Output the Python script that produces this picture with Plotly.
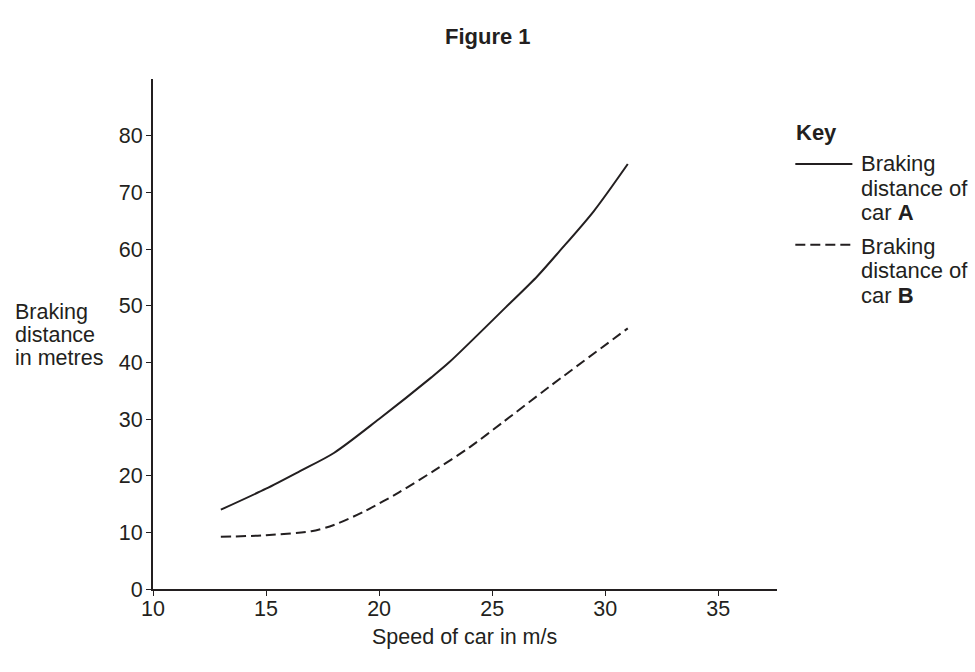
import plotly.graph_objects as go

# Data
speed_a = [13, 15, 16.5, 18, 20, 22.3, 23.1, 25.6, 27, 28, 29.5, 31]
dist_a = [14, 17.7, 20.8, 24.0, 30, 37.3, 40, 49.7, 55.2, 59.7, 66.7, 75]

speed_b = [13, 15, 17, 18, 19.4, 20.9, 22.4, 24, 25.5, 27.5, 31]
dist_b = [9.2, 9.5, 10.2, 11.3, 13.8, 17.1, 20.8, 25.0, 29.5, 35.6, 46]

x_ticks = [10, 15, 20, 25, 30, 35]
y_ticks = [0, 10, 20, 30, 40, 50, 60, 70, 80]

INK = "#231f20"
FONT = "Liberation Sans, Arial, sans-serif"
FS = 21.5

# plot-area pixel geometry
L, R, T, B = 153.3, 776.7, 79.0, 589.5
W, H = R - L, B - T


def px(x):
    return (x - L) / W


def py(y):
    return (B - y) / H


fig = go.Figure()
fig.add_trace(go.Scatter(x=speed_a, y=dist_a, mode="lines",
                         line=dict(color=INK, width=2, shape="spline", smoothing=0.8),
                         showlegend=False, hoverinfo="skip"))
fig.add_trace(go.Scatter(x=speed_b, y=dist_b, mode="lines",
                         line=dict(color=INK, width=2, dash="10px,5px", shape="spline", smoothing=0.8),
                         showlegend=False, hoverinfo="skip"))

fig.update_layout(
    width=975, height=672,
    margin=dict(l=L, r=975 - R, t=T, b=672 - B, pad=0),
    paper_bgcolor="white", plot_bgcolor="white",
    font=dict(family=FONT, size=FS, color=INK),
    xaxis=dict(range=[10, 37.6], tickvals=x_ticks, ticks="outside", ticklen=5,
               tickwidth=1.2, tickcolor=INK, showline=True, linecolor=INK, linewidth=2,
               showgrid=False, zeroline=False, tickfont=dict(size=FS),
               ticklabelstandoff=-6),
    yaxis=dict(range=[0, 90], tickvals=y_ticks, ticks="outside", ticklen=5,
               tickwidth=1.2, tickcolor=INK, showline=True, linecolor=INK, linewidth=2,
               showgrid=False, zeroline=False, tickfont=dict(size=FS),
               ticklabelstandoff=-1),
)


def label(text, xpix, ypix, anchor="left", size=FS):
    fig.add_annotation(xref="paper", yref="paper", showarrow=False, text=text,
                       x=px(xpix), y=py(ypix), xanchor=anchor, yanchor="middle",
                       align=anchor if anchor != "center" else "center",
                       font=dict(family=FONT, size=size, color=INK))


label("<b>Figure 1</b>", 488, 36, "center", 22)
label("Speed of car in m/s", 465, 638, "center")
for t, yy in zip(["Braking", "distance", "in metres"], [312, 335, 358]):
    label(t, 13, yy)
label("<b>Key</b>", 794, 133, "left", 22)
for t, yy in zip(["Braking", "distance of", "car <b>A</b>"], [164, 189, 213]):
    label(t, 859, yy, "left", 22)
for t, yy in zip(["Braking", "distance of", "car <b>B</b>"], [247, 271, 296]):
    label(t, 859, yy, "left", 22)

fig.add_shape(type="line", xref="paper", yref="paper", x0=px(795), x1=px(852),
              y0=py(164), y1=py(164), line=dict(color=INK, width=2))
fig.add_shape(type="line", xref="paper", yref="paper", x0=px(795), x1=px(852),
              y0=py(245), y1=py(245), line=dict(color=INK, width=2, dash="10px,5px"))

fig.write_html("out.html")
